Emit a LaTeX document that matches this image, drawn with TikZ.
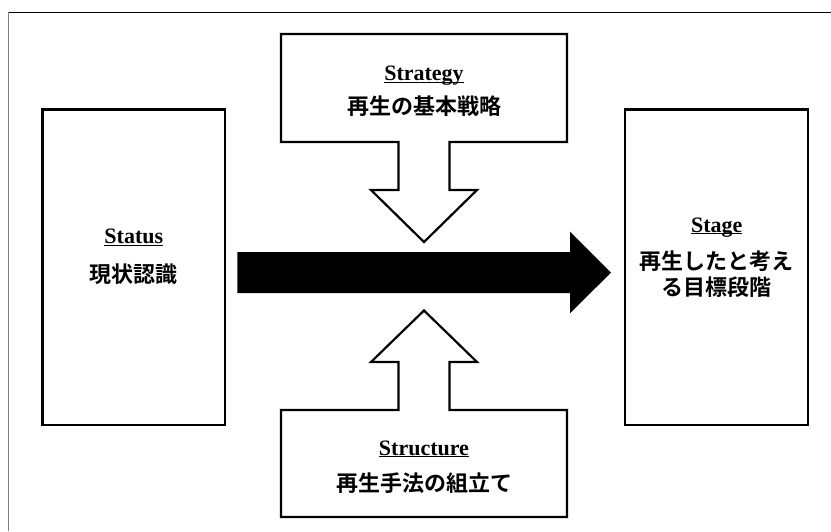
\documentclass[tikz,border=0pt]{standalone}
\usepackage{fontspec}
\setmainfont{Liberation Serif}
\newfontfamily\jpfont{Noto Sans CJK JP}[BoldFont=* Bold]
\tikzset{
  boxline/.style={draw=black, line width=2.2pt, fill=white},
  box/.style={boxline, rectangle, inner sep=0pt},
  title/.style={font=\fontsize{22}{24}\selectfont\bfseries, inner sep=0pt, anchor=base},
  jptext/.style={font=\jpfont\fontsize{22}{25.5}\selectfont\bfseries, inner sep=0pt, align=center},
}
\newcommand{\ul}[1]{\underline{\smash{#1}}}
\begin{document}
\begin{tikzpicture}[x=1pt,y=-1pt]
\useasboundingbox (0,0) rectangle (831,531);
% outer frame (cropped at right and bottom)
\draw[black, line width=1pt] (8.5,12.5) -- (831,12.5);
\draw[black!50, line width=1.6pt] (8.5,12) -- (8.5,531);

% side boxes
\node[box, minimum width=182.8pt, minimum height=315.6pt] (status) at (133.8,267.2) {};
\node[box, minimum width=182.8pt, minimum height=315.6pt] (stage) at (716.7,267.2) {};

% top box with down arrow
\coordinate (strat) at (424,88);
\draw[boxline, line join=miter] (281,34) -- (567,34) -- (567,142) -- (449.4,142) -- (449.4,190) -- (477,190) -- (424,242)
  -- (371,190) -- (398.5,190) -- (398.5,142) -- (281,142) -- cycle;
% bottom box with up arrow
\coordinate (struc) at (424,463);
\draw[boxline, line join=miter] (281,517) -- (567,517) -- (567,410) -- (449.4,410) -- (449.4,362) -- (477,362) -- (424,310.5)
  -- (371,362) -- (398.5,362) -- (398.5,410) -- (281,410) -- cycle;

% main black arrow
\fill[black] (237.4,252) -- (570,252) -- (570,231.7) -- (611,272.6) -- (570,313.3) -- (570,293) -- (237.4,293) -- cycle;

% texts
\node[title] (t1) at (133.8,243.5) {\ul{Status}};
\node[jptext] (j1) at (133.8,274.5) {現状認識};

\node[title] (t2) at (716.7,232) {\ul{Stage}};
\node[jptext] (j2) at (716.7,274) {再生したと考え\\る目標段階};

\node[title] (t3) at (424,80.5) {\ul{Strategy}};
\node[jptext] (j3) at (424,106.5) {再生の基本戦略};

\node[title] (t4) at (424,455) {\ul{Structure}};
\node[jptext] (j4) at (424,483) {再生手法の組立て};
\end{tikzpicture}
\end{document}
